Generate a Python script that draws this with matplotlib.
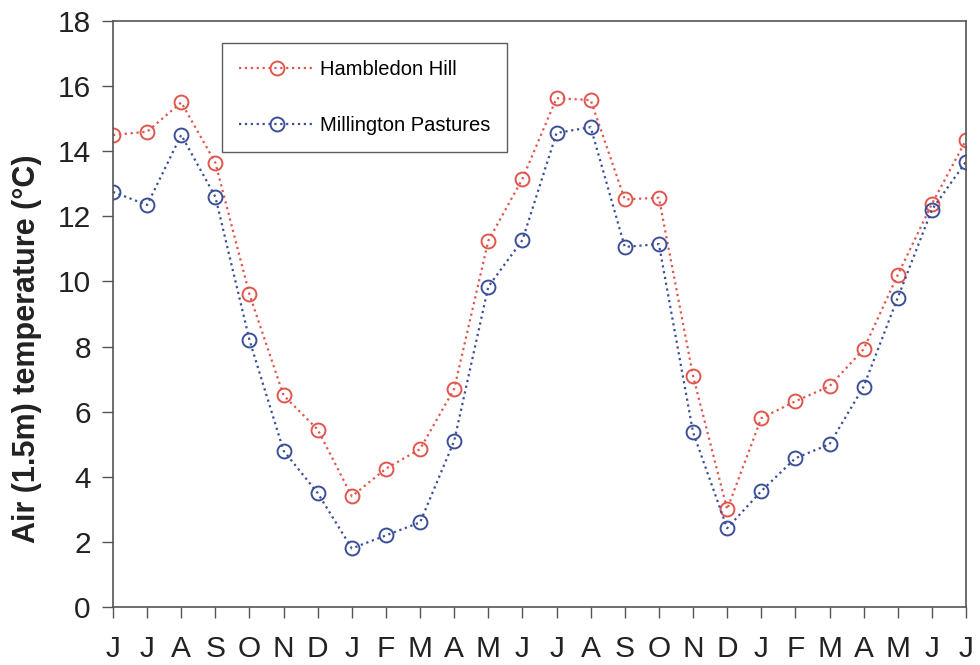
import numpy as np
import matplotlib.pyplot as plt

plt.rcParams['font.family'] = ['Liberation Sans', 'DejaVu Sans']

# Month labels, June through July of the following year (two seasons)
months = ['J', 'J', 'A', 'S', 'O', 'N', 'D', 'J', 'F', 'M', 'A', 'M', 'J',
          'J', 'A', 'S', 'O', 'N', 'D', 'J', 'F', 'M', 'A', 'M', 'J', 'J']

# Mean air temperature at 1.5 m (degC)
hambledon = [14.5, 14.6, 15.5, 13.65, 9.6, 6.5, 5.45, 3.4, 4.25, 4.85, 6.7,
             11.25, 13.15, 15.63, 15.57, 12.52, 12.57, 7.1, 3.0, 5.8, 6.32,
             6.78, 7.92, 10.2, 12.38, 14.34]
millington = [12.75, 12.35, 14.5, 12.6, 8.2, 4.8, 3.5, 1.8, 2.2, 2.6, 5.1,
              9.84, 11.27, 14.56, 14.74, 11.06, 11.15, 5.37, 2.42, 3.56, 4.57,
              5.0, 6.77, 9.5, 12.2, 13.68]

x = np.arange(len(months))

fig = plt.figure(figsize=(9.8, 6.65), dpi=100)
ax = fig.add_axes([0.1153, 0.0872, 0.8704, 0.8812])

red = '#e0564d'
blue = '#3b4f98'

ax.plot(x, hambledon, linestyle=':', color=red, linewidth=1.6,
        marker='o', markersize=10, markerfacecolor='none',
        markeredgecolor=red, markeredgewidth=1.4, label='Hambledon Hill')
ax.plot(x, millington, linestyle=':', color=blue, linewidth=1.6,
        marker='o', markersize=10, markerfacecolor='none',
        markeredgecolor=blue, markeredgewidth=1.4, label='Millington Pastures')

ax.set_xlim(0, len(months) - 1)
ax.set_ylim(0, 18)
ax.set_xticks(x)
ax.set_xticklabels(months)
ax.set_yticks(np.arange(0, 19, 2))

ax.tick_params(axis='both', direction='out', length=8, width=1,
               color='#555555', labelsize=21.5, labelcolor='#222222')
ax.tick_params(axis='x', pad=12)
ax.tick_params(axis='y', pad=8)

for s in ax.spines.values():
    s.set_color('#555555')
    s.set_linewidth(1.2)

ax.set_ylabel('Air (1.5m) temperature (°C)', fontsize=22, fontweight='bold',
              color='#222222')
ax.yaxis.set_label_coords(-0.083, 0.44)

leg = ax.legend(loc='upper left', bbox_to_anchor=(0.128, 0.962),
                borderaxespad=0, fontsize=14.5, frameon=True, fancybox=False,
                edgecolor='#333333', handlelength=3.7, labelspacing=1.8,
                borderpad=0.85, handletextpad=0.3)
leg.get_frame().set_linewidth(1.0)

fig.savefig('out.png', dpi=100)
